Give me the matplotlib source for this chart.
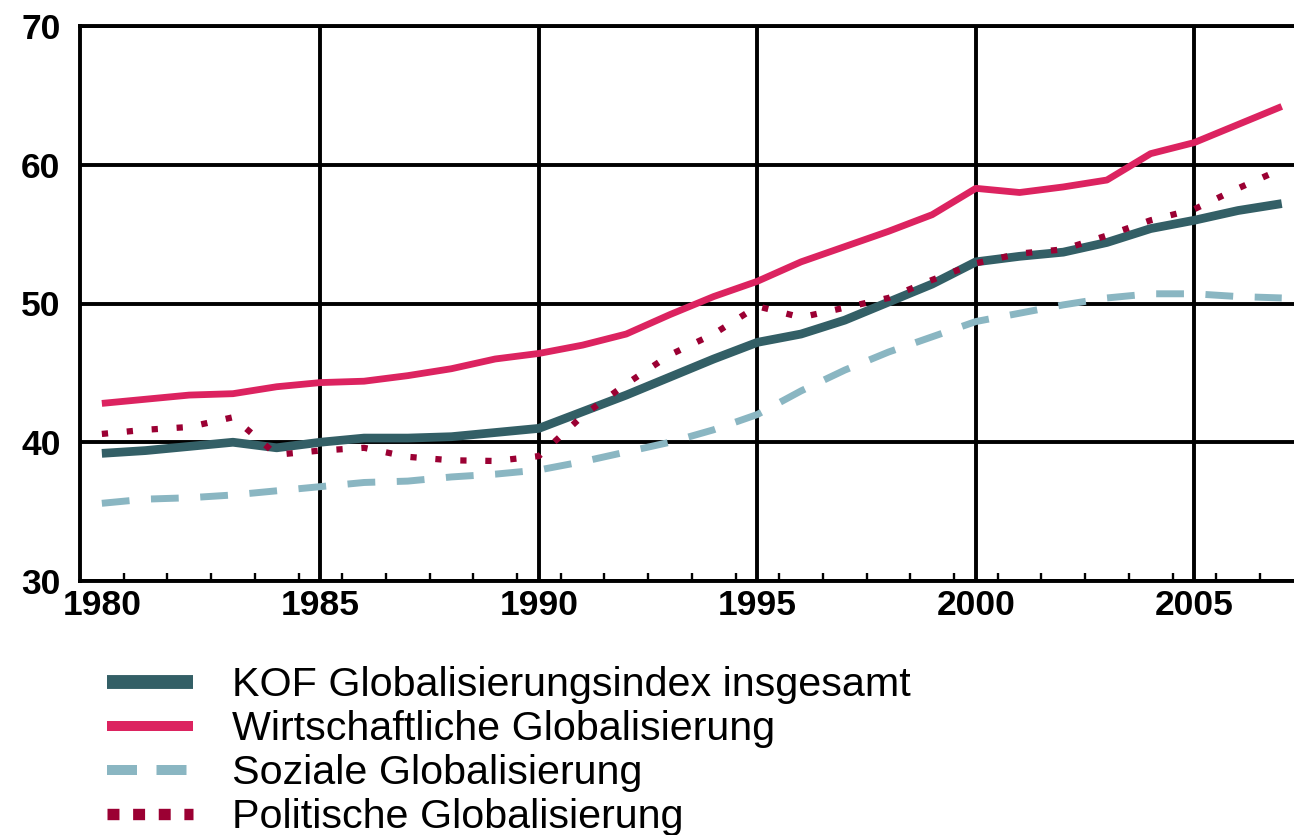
import matplotlib
matplotlib.use("Agg")
import matplotlib.pyplot as plt
from matplotlib.lines import Line2D
from matplotlib.ticker import FixedLocator

# ---- data ----
years = list(range(1980, 2008))
kof_gesamt = [39.2, 39.4, 39.7, 40.0, 39.6, 40.0, 40.3, 40.3, 40.4, 40.7,
              41.0, 42.2, 43.4, 44.7, 46.0, 47.2, 47.8, 48.8, 50.1, 51.4,
              53.0, 53.4, 53.7, 54.4, 55.4, 56.0, 56.7, 57.2]
wirtschaft = [42.8, 43.1, 43.4, 43.5, 44.0, 44.3, 44.4, 44.8, 45.3, 46.0,
              46.4, 47.0, 47.8, 49.2, 50.5, 51.6, 53.0, 54.1, 55.2, 56.4,
              58.3, 58.0, 58.4, 58.9, 60.8, 61.6, 62.9, 64.2]
sozial = [35.6, 35.9, 36.0, 36.2, 36.5, 36.8, 37.1, 37.2, 37.5, 37.7,
          38.0, 38.6, 39.3, 40.0, 40.9, 42.0, 43.7, 45.2, 46.5, 47.6,
          48.7, 49.3, 49.9, 50.4, 50.7, 50.7, 50.5, 50.4]
politisch = [40.6, 40.9, 41.1, 41.8, 39.1, 39.4, 39.6, 38.95, 38.7, 38.65,
             39.0, 41.9, 44.2, 46.3, 47.8, 49.8, 49.0, 49.7, 50.4, 51.7,
             52.9, 53.6, 53.9, 54.9, 56.0, 56.8, 58.3, 59.7]
labels = ["KOF Globalisierungsindex insgesamt",
          "Wirtschaftliche Globalisierung",
          "Soziale Globalisierung",
          "Politische Globalisierung"]
x_ticks = [1980, 1985, 1990, 1995, 2000, 2005]
y_ticks = [30, 40, 50, 60, 70]

# ---- styles ----
c_kof = "#335f66"
c_wirt = "#dc2360"
c_soz = "#8ab6c2"
c_pol = "#9b0033"

plt.rcParams["font.family"] = ["Liberation Sans", "DejaVu Sans"]

W, H = 1294, 835
fig = plt.figure(figsize=(W / 100, H / 100), dpi=100)
ax = fig.add_axes([80 / W, 1 - 581 / H, (W - 80) / W, (581 - 26) / H])

ax.plot(years, kof_gesamt, color=c_kof, lw=6.3, solid_capstyle="butt", zorder=3)
ax.plot(years, wirtschaft, color=c_wirt, lw=4.9, solid_capstyle="butt", zorder=3)
ax.plot(years, sozial, color=c_soz, lw=5.0, dashes=(4.0, 3.1),
        dash_capstyle="butt", zorder=3)
ax.plot(years, politisch, color=c_pol, lw=4.5, dashes=(1.0, 3.0),
        dash_capstyle="butt", zorder=4)

ax.set_xlim(1979.5, 1979.5 + (W - 80) / 43.7)
ax.set_ylim(30, 70)

ax.xaxis.set_major_locator(FixedLocator(x_ticks))
ax.xaxis.set_minor_locator(FixedLocator([y + 0.5 for y in years[:-1]]))
ax.yaxis.set_major_locator(FixedLocator(y_ticks))

ax.grid(True, which="major", color="black", lw=2.8, zorder=1)
fig.canvas.draw()
ax.xaxis.get_major_ticks()[0].gridline.set_visible(False)

ax.tick_params(axis="x", which="major", length=0, pad=6, labelsize=25.5)
ax.tick_params(axis="x", which="minor", direction="in", length=5.5, width=1.7,
               color="black")
ax.tick_params(axis="y", which="major", length=0, pad=14, labelsize=25.5)
for lab in ax.get_xticklabels() + ax.get_yticklabels():
    lab.set_fontweight("bold")

for side in ["left", "bottom", "top"]:
    ax.spines[side].set_linewidth(2.8)
    ax.spines[side].set_color("black")
ax.spines["right"].set_visible(False)

handles = [
    Line2D([], [], color=c_kof, lw=10, solid_capstyle="butt"),
    Line2D([], [], color=c_wirt, lw=7.2, solid_capstyle="butt"),
    Line2D([], [], color=c_soz, lw=7.2, dashes=(3.0, 1.95), dash_capstyle="butt"),
    Line2D([], [], color=c_pol, lw=8.2, dashes=(1.05, 1.2), dash_capstyle="butt"),
]
fig.legend(handles, labels, loc="upper left",
           bbox_to_anchor=(107 / W, 1 - 666 / H),
           frameon=False, fontsize=29.7, handlelength=2.08, handletextpad=0.94,
           labelspacing=0.145, borderpad=0, borderaxespad=0)

fig.savefig("out.png", dpi=100)
